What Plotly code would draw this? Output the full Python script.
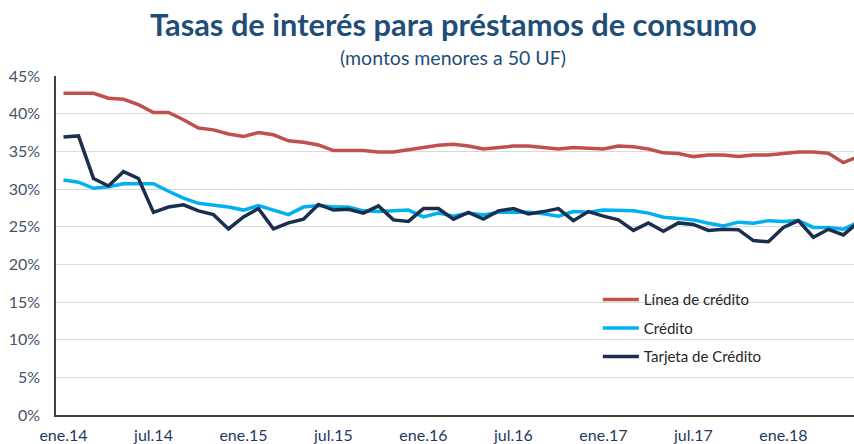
import plotly.graph_objects as go

months_es = ["ene", "feb", "mar", "abr", "may", "jun", "jul", "ago", "sep", "oct", "nov", "dic"]
categories = [f"{months_es[i % 12]}.{14 + i // 12}" for i in range(54)]

linea_credito = [42.7, 42.7, 42.7, 42.05, 41.9, 41.2, 40.15, 40.15, 39.2, 38.1,
                 37.85, 37.3, 36.96, 37.5, 37.2, 36.4, 36.2, 35.85, 35.1, 35.1,
                 35.1, 34.9, 34.9, 35.2, 35.5, 35.8, 35.95, 35.7, 35.3, 35.55,
                 35.7, 35.7, 35.55, 35.3, 35.5, 35.4, 35.3, 35.7, 35.6, 35.3,
                 34.8, 34.7, 34.3, 34.5, 34.5, 34.3, 34.5, 34.5, 34.75, 34.9,
                 34.9, 34.75, 33.5, 34.3]

credito = [31.2, 30.9, 30.1, 30.3, 30.7, 30.7, 30.7, 29.7, 28.8, 28.1,
           27.9, 27.6, 27.2, 27.8, 27.2, 26.6, 27.6, 27.8, 27.6, 27.6,
           27.1, 27.0, 27.1, 27.2, 26.3, 26.8, 26.4, 26.8, 26.55, 26.9,
           26.9, 26.9, 26.7, 26.4, 27.0, 26.9, 27.2, 27.1, 27.1, 26.8,
           26.25, 26.1, 25.9, 25.45, 25.1, 25.6, 25.45, 25.8, 25.7, 25.8,
           24.9, 24.9, 24.65, 25.6]

tarjeta = [36.9, 37.05, 31.4, 30.4, 32.3, 31.4, 26.9, 27.6, 27.9, 27.1,
           26.6, 24.7, 26.3, 27.4, 24.7, 25.5, 26.0, 27.95, 27.2, 27.3,
           26.8, 27.75, 25.9, 25.7, 27.4, 27.4, 26.0, 26.9, 26.0, 27.1,
           27.4, 26.7, 27.0, 27.4, 25.8, 27.0, 26.4, 25.9, 24.5, 25.5,
           24.4, 25.5, 25.3, 24.5, 24.65, 24.6, 23.15, 23.0, 24.9, 25.8,
           23.6, 24.65, 23.9, 25.6]

series_names = ["Línea de crédito", "Crédito", "Tarjeta de Crédito"]
series_colors = ["#C0504D", "#00B0F0", "#1A2F4D"]

tick_vals = list(range(0, 54, 6))
tick_labels = [categories[i] for i in tick_vals]
y_ticks = [0, 5, 10, 15, 20, 25, 30, 35, 40, 45]

fig = go.Figure()
xs = list(range(len(categories)))
for i, (name, vals, color) in enumerate(zip(series_names, [linea_credito, credito, tarjeta], series_colors)):
    fig.add_trace(go.Scatter(
        x=xs, y=vals, mode="lines", name=name, legendgroup=f"g{i}",
        line=dict(color=color, width=3.5),
        customdata=categories, hovertemplate="%{customdata}: %{y:.1f}%<extra>" + name + "</extra>",
    ))

font_family = "Lato, 'Open Sans', sans-serif"
cx = (453 - 56) / 798

fig.update_layout(
    width=854, height=444,
    margin=dict(l=56, r=0, t=76, b=29, autoexpand=False),
    paper_bgcolor="white", plot_bgcolor="white",
    font=dict(family=font_family, color="#44546A"),
    showlegend=True,
    legend=dict(
        x=0.679, y=0.389, xanchor="left", yanchor="top",
        bgcolor="rgba(0,0,0,0)", font=dict(size=15, color="#262626"),
        itemwidth=36, traceorder="grouped", tracegroupgap=6,
    ),
    xaxis=dict(
        range=[-0.5, 52.71], tickmode="array", tickvals=tick_vals, ticktext=tick_labels,
        showgrid=False, zeroline=False, showline=True, linecolor="#404040", linewidth=1.5,
        ticks="", tickfont=dict(size=16, color="#1F3864"), automargin=False,
        ticklabelstandoff=5,
    ),
    yaxis=dict(
        range=[0, 45], tickvals=y_ticks, ticktext=[f"{v}%" for v in y_ticks],
        showgrid=True, gridcolor="#D9D9D9", gridwidth=1, zeroline=False,
        showline=True, linecolor="#404040", linewidth=1.5, ticks="",
        tickfont=dict(size=16, color="#44546A"), ticklabelstandoff=11, automargin=False,
    ),
    annotations=[
        dict(text="<b>Tasas de interés para préstamos de consumo</b>", xref="paper", yref="paper",
             x=cx, y=1, yshift=52, xanchor="center", yanchor="middle", showarrow=False,
             font=dict(size=30.8, color="#1F4E79", family=font_family)),
        dict(text="(montos menores a 50 UF)", xref="paper", yref="paper",
             x=cx, y=1, yshift=19, xanchor="center", yanchor="middle", showarrow=False,
             font=dict(size=19.5, color="#1F4E79", family=font_family)),
    ],
)

fig.write_html(
    "out.html",
    config={"displayModeBar": False},
    post_script="document.body.style.margin='0';document.body.style.overflow='hidden';",
)
